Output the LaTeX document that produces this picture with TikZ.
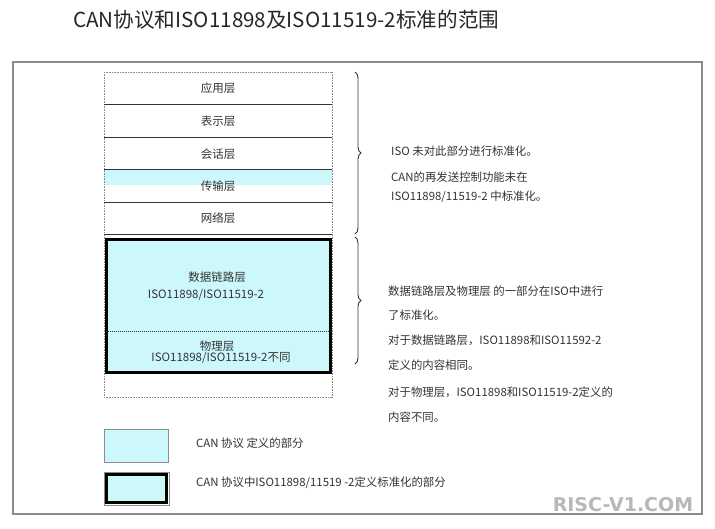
\documentclass[tikz,border=0pt]{standalone}
\usepackage{fontspec}
\setmainfont{Noto Sans CJK SC}
\newfontfamily\wmfont{DejaVu Sans}
\usetikzlibrary{decorations.pathreplacing}
\definecolor{cancyan}{HTML}{CCF8FC}
\definecolor{framegray}{HTML}{8C8C8C}
\definecolor{txtgray}{HTML}{333333}
\tikzset{
  lbl/.style={inner sep=0pt, font=\fontsize{11.5}{13}\selectfont, text=txtgray},
  note/.style={inner sep=0pt, anchor=west, font=\fontsize{11.4}{13}\selectfont, text=txtgray},
  sep/.style={draw=txtgray, line width=0.9pt},
  side/.style={draw=framegray, line width=0.8pt, dash pattern=on 1pt off 0.6pt},
  brc/.style={draw=txtgray, line width=0.9pt, decorate, decoration={brace, amplitude=6pt}},
}
\begin{document}
\begin{tikzpicture}[x=1pt,y=-1pt]
\useasboundingbox (0,0) rectangle (715,528);
% title
\node[anchor=west, inner sep=0pt, font=\fontsize{20.6}{24}\selectfont, text=black!85] (title) at (73,20) {CAN协议和ISO11898及ISO11519-2标准的范围};
% frame
\draw[framegray, line width=1.6pt] (13,62) rectangle (702,514);
% stack
\fill[cancyan] (104,169) rectangle (332,185);
\draw[side] (104,72) -- (104,397);
\draw[side] (332,72) -- (332,397);
\draw[side] (104,72) -- (332,72);
\draw[side] (104,397) -- (332,397);
\draw[sep] (104,104) -- (332,104);
\draw[sep] (104,137) -- (332,137);
\draw[sep] (104,169) -- (332,169);
\draw[sep] (104,202) -- (332,202);
\draw[sep] (104,234) -- (332,234);
\node[lbl] (app) at (218,88) {应用层};
\node[lbl] (pres) at (218,121) {表示层};
\node[lbl] (sess) at (218,154) {会话层};
\node[lbl] (trans) at (218,186) {传输层};
\node[lbl] (net) at (218,218) {网络层};
% thick box
\draw[black, line width=3pt, fill=cancyan] (106,239) rectangle (330,372);
\draw[txtgray, line width=0.8pt, dash pattern=on 1.2pt off 0.8pt] (105.5,331) -- (330.5,331);
\node[lbl] (dl) at (217,277) {数据链路层};
\node[lbl] (dliso) at (206,295) {ISO11898/ISO11519-2};
\node[lbl] (ph) at (217,346) {物理层};
\node[lbl] (phiso) at (221,358) {ISO11898/ISO11519-2不同};
% braces
\draw[brc] (355,72) -- (355,234);
\draw[brc] (355,237) -- (355,364);
% notes
\node[note] (n1) at (391,151) {ISO 未对此部分进行标准化。};
\node[note] (n2) at (391,177) {CAN的再发送控制功能未在};
\node[note] (n3) at (391,197) {ISO11898/11519-2 中标准化。};
\node[note] (m1) at (388,291) {数据链路层及物理层 的一部分在ISO中进行};
\node[note] (m2) at (388,315) {了标准化。};
\node[note] (m3) at (388,340) {对于数据链路层，ISO11898和ISO11592-2};
\node[note] (m4) at (388,365) {定义的内容相同。};
\node[note] (m5) at (388,392) {对于物理层，ISO11898和ISO11519-2定义的};
\node[note] (m6) at (388,417) {内容不同。};
% legend
\draw[framegray, line width=1pt, fill=cancyan] (104.5,429.5) rectangle (168.5,462.5);
\draw[framegray, line width=1pt] (104,472) rectangle (169,505);
\draw[black, line width=3pt, fill=cancyan] (106.5,474.5) rectangle (166.5,502.5);
\node[note] (leg1) at (196,443) {CAN 协议 定义的部分};
\node[note] (leg2) at (196,483) {CAN 协议中ISO11898/11519 -2定义标准化的部分};
% watermark
\node[inner sep=0pt, font=\wmfont\bfseries\fontsize{19}{20}\selectfont, text=black!28] (wm) at (623,505) {RISC-V1.COM};
\end{tikzpicture}
\end{document}
